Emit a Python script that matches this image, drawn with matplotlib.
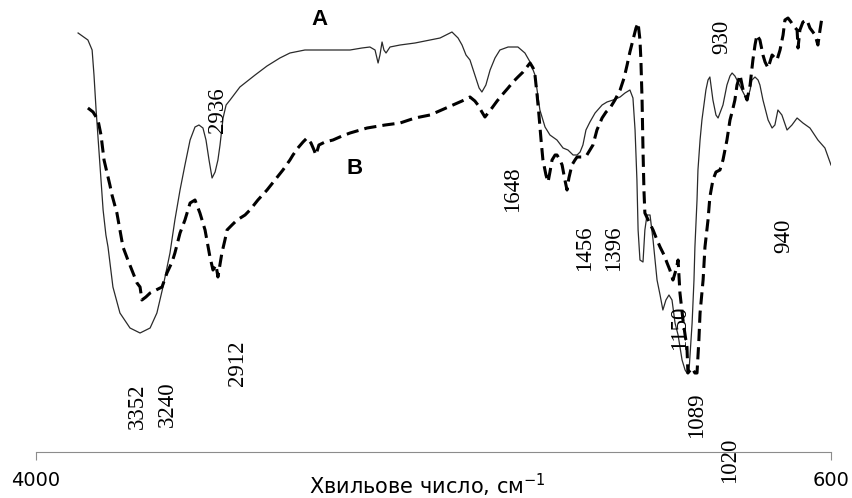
import matplotlib.pyplot as plt

# IR spectra, wavenumber (cm-1) and transmittance (arbitrary units)
wn_a = [3820, 3778, 3760, 3752, 3743, 3731, 3722, 3713, 3701, 3692, 3671, 3641, 3598, 3555,
        3512, 3483, 3457, 3427, 3406, 3384, 3363, 3341, 3320, 3303, 3286, 3273, 3260, 3247,
        3234, 3222, 3213, 3200, 3187, 3170, 3128, 3063, 3012, 2957, 2914, 2850, 2798, 2721,
        2657, 2606, 2572, 2550, 2542, 2537, 2529, 2520, 2512, 2503, 2486, 2443, 2379, 2315,
        2272, 2221, 2195, 2178, 2161, 2144, 2123, 2105, 2093, 2076, 2058, 2037, 2016, 1981,
        1939, 1909, 1887, 1874, 1866, 1857, 1845, 1823, 1802, 1772, 1746, 1725, 1703, 1686,
        1673, 1661, 1648, 1631, 1609, 1579, 1558, 1532, 1502, 1481, 1460, 1447, 1438, 1430,
        1425, 1417, 1404, 1396, 1387, 1374, 1361, 1344, 1331, 1319, 1306, 1293, 1280, 1267,
        1254, 1237, 1224, 1216, 1207, 1194, 1186, 1182, 1173, 1169, 1160, 1152, 1135, 1126,
        1118, 1105, 1092, 1083, 1070, 1062, 1045, 1032, 1023, 1011, 1002, 981, 959, 946,
        938, 925, 912, 904, 891, 869, 852, 840, 827, 810, 788, 767, 745, 720, 690, 656, 626, 600]
t_a = [419, 412, 402, 377, 342, 302, 272, 242, 217, 205, 165, 139, 124, 119,
       124, 139, 165, 199, 232, 262, 287, 312, 325, 327, 324, 312, 292, 274,
       280, 292, 307, 334, 347, 352, 365, 377, 386, 394, 399, 402, 402, 402,
       402, 404, 405, 402, 394, 389, 397, 410, 402, 399, 405, 407, 409, 412,
       414, 420, 414, 407, 397, 392, 377, 364, 360, 367, 382, 394, 402, 405,
       405, 399, 390, 382, 377, 362, 342, 325, 317, 312, 304, 302, 297, 297,
       300, 307, 322, 330, 339, 347, 350, 352, 355, 359, 362, 354, 322, 272,
       222, 192, 190, 222, 237, 237, 212, 172, 157, 142, 152, 157, 152, 129,
       117, 92, 82, 79, 82, 129, 172, 205, 252, 282, 312, 332, 362, 372,
       375, 352, 337, 334, 342, 347, 367, 376, 379, 376, 372, 362, 352, 362,
       372, 375, 372, 367, 352, 332, 324, 327, 342, 337, 322, 327, 334, 329, 324, 312, 304, 287]

wn_b = [3778, 3756, 3735, 3722, 3709, 3684, 3675, 3654, 3628, 3607, 3585, 3568, 3555, 3547,
        3530, 3512, 3487, 3461, 3440, 3418, 3406, 3384, 3363, 3341, 3320, 3299, 3277, 3256,
        3243, 3230, 3222, 3205, 3192, 3183, 3162, 3140, 3106, 3085, 3051, 3012, 2978, 2944,
        2914, 2901, 2880, 2858, 2841, 2824, 2811, 2803, 2790, 2764, 2730, 2691, 2657, 2584,
        2507, 2443, 2379, 2315, 2285, 2217, 2178, 2144, 2123, 2110, 2093, 2080, 2063, 2050,
        2028, 2007, 1981, 1960, 1939, 1917, 1900, 1887, 1874, 1866, 1857, 1849, 1840, 1832,
        1819, 1810, 1802, 1793, 1780, 1772, 1759, 1750, 1738, 1729, 1721, 1708, 1695, 1686,
        1665, 1644, 1631, 1618, 1601, 1579, 1562, 1545, 1524, 1502, 1485, 1472, 1460, 1447,
        1434, 1425, 1417, 1413, 1408, 1404, 1400, 1396, 1378, 1361, 1344, 1331, 1314, 1301,
        1289, 1276, 1263, 1254, 1246, 1233, 1224, 1216, 1212, 1194, 1182, 1173, 1165, 1160,
        1147, 1139, 1126, 1118, 1105, 1092, 1075, 1062, 1045, 1032, 1023, 1011, 1002, 989,
        976, 959, 946, 934, 925, 917, 904, 891, 882, 869, 852, 831, 818, 805, 797, 784,
        771, 763, 745, 741, 733, 720, 703, 690, 668, 656, 647, 639]
t_b = [344, 340, 332, 317, 292, 267, 257, 239, 205, 192, 179, 169, 165, 152,
       155, 159, 162, 165, 179, 190, 199, 219, 232, 249, 252, 239, 222, 195,
       182, 187, 175, 199, 212, 222, 227, 232, 237, 242, 252, 262, 272, 282,
       292, 297, 304, 310, 314, 309, 302, 297, 307, 310, 312, 316, 319, 324,
       327, 329, 334, 337, 340, 347, 351, 355, 351, 347, 340, 335, 340, 344,
       351, 357, 364, 370, 375, 380, 385, 389, 384, 377, 357, 337, 312, 292,
       277, 270, 280, 292, 297, 297, 292, 287, 272, 262, 274, 287, 292, 295,
       295, 297, 302, 307, 322, 334, 340, 344, 352, 362, 374, 387, 400, 412,
       424, 429, 412, 392, 352, 302, 262, 239, 230, 222, 212, 205, 197, 189,
       182, 172, 182, 192, 159, 132, 117, 105, 79, 84, 79, 79, 112, 139,
       172, 205, 232, 255, 272, 280, 282, 292, 312, 332, 340, 352, 367, 377,
       362, 352, 367, 392, 407, 417, 412, 397, 390, 384, 397, 392, 402, 417, 432, 434,
       430, 427, 422, 404, 422, 430, 432, 424, 417, 407, 422, 434]

peak_labels = ["3352", "3240", "2936", "2912", "1648", "1456", "1396",
               "1150", "1089", "1020", "930", "940"]
label_pos = [(3568, 46), (3440, 48), (3222, 342), (3140, 89), (1964, 263), (1652, 204),
             (1532, 204), (1246, 124), (1177, 37), (1032, -8), (1066, 415), (801, 216)]

serif = ["Liberation Serif", "Times New Roman", "Nimbus Roman", "DejaVu Serif"]
sans = ["Liberation Sans", "Arial", "DejaVu Sans"]

fig = plt.figure(figsize=(8.53, 4.98), dpi=100)
ax = fig.add_axes([36 / 853, 46 / 498, 795 / 853, 452 / 498])

ax.plot(wn_a, t_a, color="#2a2a2a", lw=0.9)
ax.plot(wn_b, t_b, color="black", lw=2.2, dashes=(4, 2))

ax.set_xlim(4000, 600)
ax.set_ylim(0, 452)
ax.set_xticks([4000, 600])
ax.set_xticklabels(["4000", "600"], fontsize=14, family="DejaVu Sans")
ax.set_yticks([])
for s in ["left", "top", "right"]:
    ax.spines[s].set_visible(False)
ax.spines["bottom"].set_color("#8c8c8c")
ax.tick_params(axis="x", color="#8c8c8c", length=6, pad=8, direction="out")
ax.set_xlabel("Хвильове число, см$^{-1}$", fontsize=15, family="DejaVu Sans")
ax.xaxis.set_label_coords(0.492, -0.073)
ax.xaxis.label.set_va("center")

for txt, (x, y) in zip(peak_labels, label_pos):
    ax.text(x, y, txt, rotation=90, ha="center", va="center", fontsize=16.5,
            family=serif, clip_on=False)

ax.text(2789, 432, "A", fontsize=16, fontweight="bold", ha="center", va="center",
        family=sans)
ax.text(2636, 283, "B", fontsize=16, fontweight="bold", ha="center", va="center",
        family=sans)

fig.savefig("out.png", dpi=100)
